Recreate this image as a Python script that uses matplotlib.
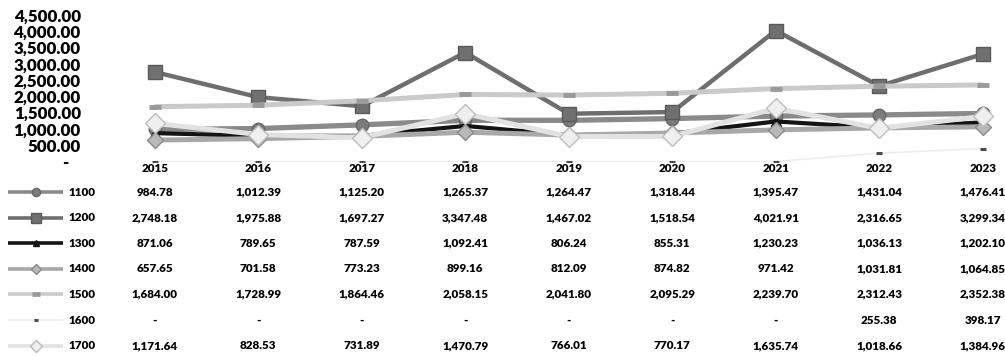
import matplotlib.pyplot as plt
from matplotlib.lines import Line2D
from matplotlib.ticker import FuncFormatter
from matplotlib.transforms import blended_transform_factory

# 연도별 계열 값
years = ['2015', '2016', '2017', '2018', '2019', '2020', '2021', '2022', '2023']
names = ['1100', '1200', '1300', '1400', '1500', '1600', '1700']
s1100 = [984.78, 1012.39, 1125.20, 1265.37, 1264.47, 1318.44, 1395.47, 1431.04, 1476.41]
s1200 = [2748.18, 1975.88, 1697.27, 3347.48, 1467.02, 1518.54, 4021.91, 2316.65, 3299.34]
s1300 = [871.06, 789.65, 787.59, 1092.41, 806.24, 855.31, 1230.23, 1036.13, 1202.10]
s1400 = [657.65, 701.58, 773.23, 899.16, 812.09, 874.82, 971.42, 1031.81, 1064.85]
s1500 = [1684.00, 1728.99, 1864.46, 2058.15, 2041.80, 2095.29, 2239.70, 2312.43, 2352.38]
s1600 = [0, 0, 0, 0, 0, 0, 0, 255.38, 398.17]
s1700 = [1171.64, 828.53, 731.89, 1470.79, 766.01, 770.17, 1635.74, 1018.66, 1384.96]
series = [s1100, s1200, s1300, s1400, s1500, s1600, s1700]

# 계열별 선/마커 스타일
styles = [
    dict(color='#8a8a8a', lw=3.8, marker='o', ms=9, mfc='#7c7c7c', mec='#666666'),
    dict(color='#6e6e6e', lw=3.2, marker='s', ms=10, mfc='#707070', mec='#5a5a5a'),
    dict(color='#141414', lw=3.0, marker='^', ms=7, mfc='#141414', mec='#141414'),
    dict(color='#a8a8a8', lw=3.6, marker='D', ms=8, mfc='#b8b8b8', mec='#8a8a8a'),
    dict(color='#cacaca', lw=3.6, marker='_', ms=9, mfc='#9a9a9a', mec='#9a9a9a', mew=3.5),
    dict(color='#eeeeee', lw=1.2, marker='_', ms=5, mfc='#4a4a4a', mec='#4a4a4a', mew=2.2),
    dict(color='#e2e2e2', lw=3.6, marker='D', ms=10, mfc='#efefef', mec='#bdbdbd'),
]

FONT = 'Lato'
WEIGHT = 'heavy'
W, H = 1005, 356

fig = plt.figure(figsize=(W / 100, H / 100), dpi=100)
ax = fig.add_axes([103 / W, (H - 161.5) / H, 931.5 / W, 146.5 / H])

x = list(range(len(years)))
for vals, st in zip(series, styles):
    ax.plot(x, vals, solid_capstyle='butt', **st)

ax.set_xlim(-0.5, len(years) - 0.5)
ax.set_ylim(0, 4500)
ax.set_yticks(range(0, 4501, 500))


def fmt(v, pos=None):
    if v == 0:
        return '-   '
    return f'{v:,.2f}'


ax.yaxis.set_major_formatter(FuncFormatter(fmt))
ax.tick_params(axis='y', length=0, pad=16)
ax.set_xticks([])
for lab in ax.get_yticklabels():
    lab.set_fontfamily(FONT)
    lab.set_fontweight(WEIGHT)
    lab.set_fontsize(12.2)
    lab.set_color('black')
for sp in ax.spines.values():
    sp.set_visible(False)

# 데이터 표 (연도 헤더 + 계열별 값)
tr = blended_transform_factory(ax.transData, fig.transFigure)
txt = dict(fontfamily=FONT, fontweight=WEIGHT, fontsize=8.4, color='black',
           ha='center', va='center')
for i, yr in enumerate(years):
    ax.text(i, 1 - 169 / H, yr, transform=tr, clip_on=False, **txt)

for r, (name, vals, st) in enumerate(zip(names, series, styles)):
    yf = 1 - (192 + r * 25.6) / H
    for i, v in enumerate(vals):
        ax.text(i, yf, fmt(v).strip(), transform=tr, clip_on=False, **txt)
    # 범례 키
    fig.add_artist(Line2D([8 / W, 63 / W], [yf, yf], color=st['color'],
                          lw=min(st['lw'], 2.6), solid_capstyle='butt'))
    mk = {k: st[k] for k in ('marker', 'mfc', 'mec', 'mew') if k in st}
    fig.add_artist(Line2D([36 / W], [yf], ms=st['ms'] * 0.65, lw=0, **mk))
    fig.text(68 / W, yf, name, fontfamily=FONT, fontweight=WEIGHT, fontsize=8.4,
             color='black', ha='left', va='center')

fig.savefig('out.png', dpi=100)
